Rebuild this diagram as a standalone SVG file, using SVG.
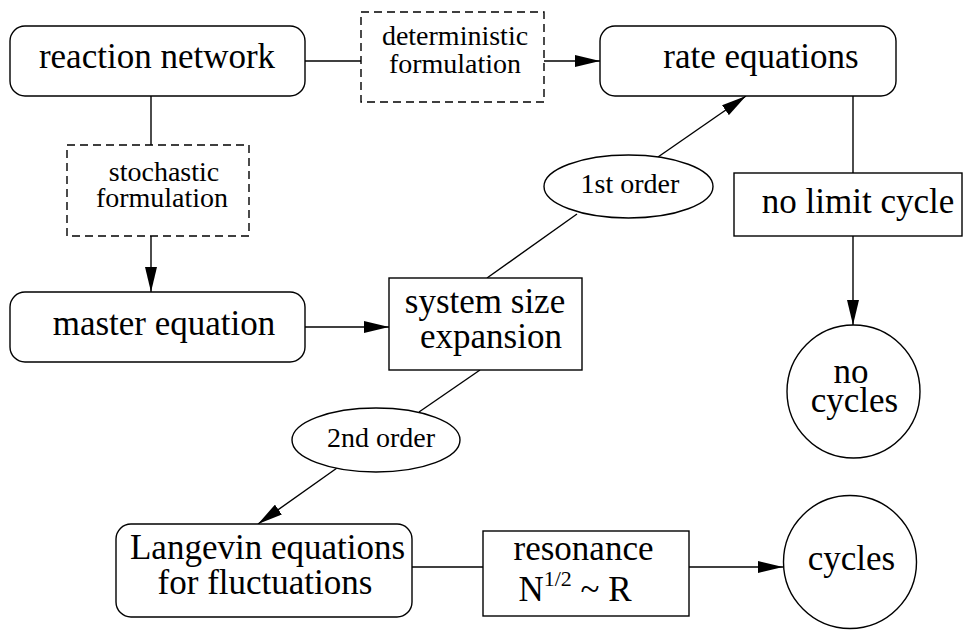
<svg xmlns="http://www.w3.org/2000/svg" width="963" height="630" viewBox="0 0 963 630">
<defs>
<marker id="arr" markerWidth="25" markerHeight="12" refX="25" refY="6" orient="auto" markerUnits="userSpaceOnUse"><path d="M0,0 L25,6 L0,12 z" fill="#000"/></marker>
</defs>
<rect width="963" height="630" fill="#fff"/>
<g id="connectors" stroke="#000" stroke-width="1.4" fill="none">
<line x1="305" y1="61" x2="361" y2="61"/>
<line x1="544" y1="61" x2="600" y2="61" marker-end="url(#arr)"/>
<line x1="151" y1="96" x2="151" y2="145"/>
<line x1="151" y1="236" x2="151" y2="292" marker-end="url(#arr)"/>
<line x1="305" y1="327" x2="389" y2="327" marker-end="url(#arr)"/>
<line x1="487" y1="278" x2="577" y2="214"/>
<line x1="658" y1="157" x2="746" y2="96" marker-end="url(#arr)"/>
<line x1="853" y1="96" x2="853" y2="173"/>
<line x1="853" y1="236" x2="853" y2="325" marker-end="url(#arr)"/>
<line x1="480" y1="370" x2="419" y2="412"/>
<line x1="337" y1="468" x2="258" y2="524" marker-end="url(#arr)"/>
<line x1="412" y1="567" x2="483" y2="567"/>
<line x1="689" y1="567" x2="783" y2="567" marker-end="url(#arr)"/>
</g>
<g id="reaction-network">
<rect x="10" y="26" width="295" height="70" rx="15" fill="#fff" stroke="#000" stroke-width="1.4"/>
<text font-family="Liberation Serif" font-size="35" text-anchor="middle" x="157" y="68">reaction network</text>
</g>
<g id="deterministic">
<rect x="361" y="12" width="183" height="90" fill="#fff" stroke="#000" stroke-width="1.4" stroke-dasharray="8 5"/>
<text font-family="Liberation Serif" font-size="28" text-anchor="middle" x="455" y="45">deterministic</text>
<text font-family="Liberation Serif" font-size="28" text-anchor="middle" x="455" y="73">formulation</text>
</g>
<g id="rate-equations">
<rect x="600" y="26" width="296" height="70" rx="15" fill="#fff" stroke="#000" stroke-width="1.4"/>
<text font-family="Liberation Serif" font-size="35" text-anchor="middle" x="761" y="68">rate equations</text>
</g>
<g id="stochastic">
<rect x="67" y="145" width="182" height="91" fill="#fff" stroke="#000" stroke-width="1.4" stroke-dasharray="8 5"/>
<text font-family="Liberation Serif" font-size="28" text-anchor="middle" x="164" y="181">stochastic</text>
<text font-family="Liberation Serif" font-size="28" text-anchor="middle" x="162" y="207">formulation</text>
</g>
<g id="master-equation">
<rect x="10" y="292" width="295" height="70" rx="15" fill="#fff" stroke="#000" stroke-width="1.4"/>
<text font-family="Liberation Serif" font-size="35" text-anchor="middle" x="164" y="335">master equation</text>
</g>
<g id="system-size-expansion">
<rect x="389" y="278" width="193" height="92" fill="#fff" stroke="#000" stroke-width="1.4"/>
<text font-family="Liberation Serif" font-size="35" text-anchor="middle" x="485" y="313">system size</text>
<text font-family="Liberation Serif" font-size="35" text-anchor="middle" x="491" y="348">expansion</text>
</g>
<g id="first-order">
<ellipse cx="628.5" cy="186.5" rx="84.5" ry="31.5" fill="#fff" stroke="#000" stroke-width="1.4"/>
<text font-family="Liberation Serif" font-size="28" text-anchor="middle" x="630" y="193">1st order</text>
</g>
<g id="no-limit-cycle">
<rect x="734" y="173" width="228" height="63" fill="#fff" stroke="#000" stroke-width="1.4"/>
<text font-family="Liberation Serif" font-size="35" text-anchor="middle" x="858" y="213">no limit cycle</text>
</g>
<g id="no-cycles">
<circle cx="853.5" cy="391.5" r="66.5" fill="#fff" stroke="#000" stroke-width="1.4"/>
<text font-family="Liberation Serif" font-size="35" text-anchor="middle" x="851" y="383">no</text>
<text font-family="Liberation Serif" font-size="35" text-anchor="middle" x="854.5" y="412">cycles</text>
</g>
<g id="second-order">
<ellipse cx="376" cy="440" rx="84" ry="32" fill="#fff" stroke="#000" stroke-width="1.4"/>
<text font-family="Liberation Serif" font-size="28" text-anchor="middle" x="381" y="447">2nd order</text>
</g>
<g id="langevin">
<rect x="116" y="524" width="296" height="93" rx="15" fill="#fff" stroke="#000" stroke-width="1.4"/>
<text font-family="Liberation Serif" font-size="35" text-anchor="middle" x="267.5" y="559">Langevin equations</text>
<text font-family="Liberation Serif" font-size="35" text-anchor="middle" x="265" y="594">for fluctuations</text>
</g>
<g id="resonance">
<rect x="483" y="531" width="206" height="85" fill="#fff" stroke="#000" stroke-width="1.4"/>
<text font-family="Liberation Serif" font-size="35" text-anchor="middle" x="583.5" y="560">resonance</text>
<text font-family="Liberation Serif" font-size="35" text-anchor="middle" x="575" y="601">N<tspan font-size="22" dy="-15">1/2</tspan><tspan dy="15"> ~ R</tspan></text>
</g>
<g id="cycles">
<circle cx="850" cy="562" r="66.5" fill="#fff" stroke="#000" stroke-width="1.4"/>
<text font-family="Liberation Serif" font-size="35" text-anchor="middle" x="851.5" y="570">cycles</text>
</g>
</svg>
